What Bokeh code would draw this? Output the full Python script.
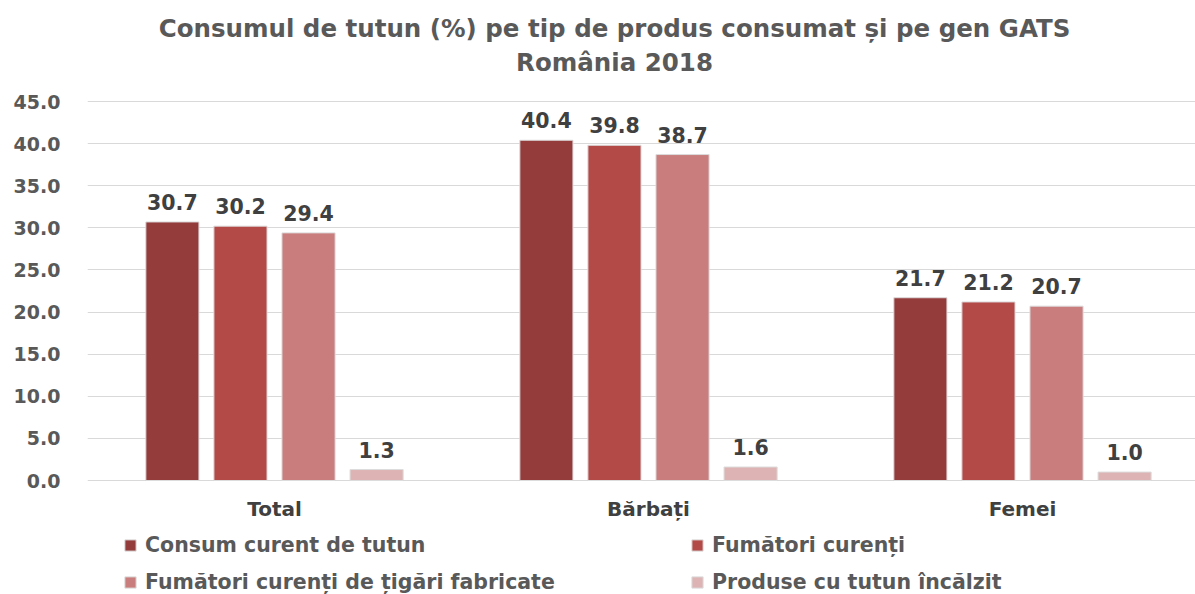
from bokeh.plotting import figure
from bokeh.models import (ColumnDataSource, FixedTicker, Legend, LegendItem,
                          Range1d, LabelSet, Label)
from bokeh.core.properties import value
from bokeh.embed import file_html
from bokeh.resources import INLINE

categories = ["Total", "Bărbați", "Femei"]
series_names = ["Consum curent de tutun", "Fumători curenți",
                "Fumători curenți de țigări fabricate", "Produse cu tutun încălzit"]
consum_curent = [30.7, 40.4, 21.7]
fumatori_curenti = [30.2, 39.8, 21.2]
fumatori_tigari = [29.4, 38.7, 20.7]
tutun_incalzit = [1.3, 1.6, 1.0]
y_ticks = [0, 5, 10, 15, 20, 25, 30, 35, 40, 45]
title_lines = ["Consumul de tutun (%) pe tip de produs consumat și pe gen GATS",
               "România 2018"]

series_values = [consum_curent, fumatori_curenti, fumatori_tigari, tutun_incalzit]
colors = ["#943B3B", "#B34A48", "#C97D7C", "#DDB3B3"]
offsets = [-0.273, -0.091, 0.091, 0.273]
bar_w = 0.142

FONT = "DejaVu Sans"
W, H = 1195, 594
LEFT = 87
Y0_PX, Y45_PX = 480, 101          # canvas rows of 0 and 45
ppu = (Y0_PX - Y45_PX) / 45.0
y_top = 45 + Y45_PX / ppu
y_bot = -(H - Y0_PX) / ppu
cat_px = 374.0
x_end = -0.5 + (W - LEFT) / cat_px

p = figure(width=W, height=H, output_backend="svg", toolbar_location=None,
           x_range=Range1d(-0.5, x_end), y_range=Range1d(y_bot, y_top),
           min_border_left=LEFT, min_border_right=0, min_border_top=0,
           min_border_bottom=0, outline_line_color=None)
p.title = None

# title (frame covers the whole canvas height)
for txt, ypos in zip(title_lines, [28, 62]):
    p.add_layout(Label(x=614 - LEFT, y=H - ypos, x_units="screen", y_units="screen",
                       text=txt, text_align="center", text_baseline="middle",
                       text_font=FONT, text_font_size="24.5px",
                       text_font_style="bold", text_color="#595959"))

renderers = []
xs_cat = list(range(len(categories)))
for name, vals, col, off in zip(series_names, series_values, colors, offsets):
    src = ColumnDataSource(dict(x=[c + off for c in xs_cat], top=vals,
                                lbl=[f"{v:.1f}" for v in vals]))
    r = p.vbar(x="x", top="top", width=bar_w, source=src, fill_color=col,
               line_color="#dcdcdc", line_width=1)
    renderers.append(r)
    p.add_layout(LabelSet(x="x", y="top", text="lbl", source=src,
                          text_align="center", text_baseline="middle",
                          y_offset=20, text_font=value(FONT),
                          text_font_size="20.5px", text_font_style="bold",
                          text_color="#404040"))

# category labels under the zero line
cat_src = ColumnDataSource(dict(x=xs_cat, y=[0] * len(xs_cat), t=categories))
p.add_layout(LabelSet(x="x", y="y", text="t", source=cat_src, text_align="center",
                      text_baseline="middle", y_offset=-28, text_font=value(FONT),
                      text_font_size="20px", text_font_style="bold",
                      text_color="#404040"))

p.xaxis.visible = False
p.xgrid.grid_line_color = None

p.yaxis.ticker = FixedTicker(ticks=y_ticks)
p.yaxis.major_label_overrides = {v: f"{v:.1f}" for v in y_ticks}
p.yaxis.major_label_text_font = FONT
p.yaxis.major_label_text_font_size = "19px"
p.yaxis.major_label_text_font_style = "bold"
p.yaxis.major_label_text_color = "#595959"
p.yaxis.axis_line_color = None
p.yaxis.major_tick_line_color = None
p.yaxis.minor_tick_line_color = None
p.yaxis.major_tick_out = 0
p.yaxis.major_label_standoff = 27

p.ygrid.grid_line_color = "#d9d9d9"
p.ygrid.grid_line_width = 1

order = [0, 2, 1, 3]
items = [LegendItem(label=series_names[i], renderers=[renderers[i]]) for i in order]
legend = Legend(items=items, ncols=2, label_text_font=FONT,
                label_text_font_size="20.5px", label_text_font_style="bold",
                label_text_color="#595959", glyph_width=14, glyph_height=14,
                label_standoff=8, label_width=532, label_height=20, spacing=13,
                padding=0, margin=0, border_line_color=None,
                location=(36, 0), background_fill_alpha=0)
p.add_layout(legend, "center")

open("out.html", "w").write(file_html(p, INLINE))
